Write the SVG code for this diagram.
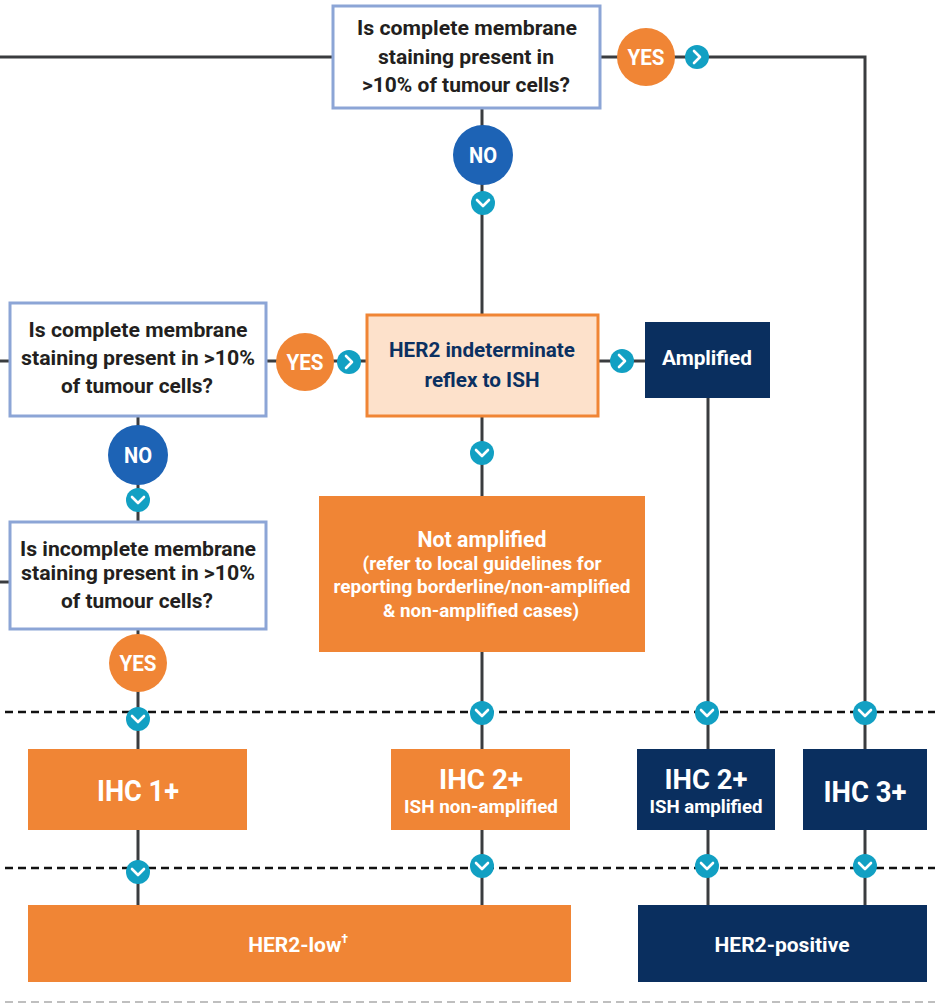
<svg xmlns="http://www.w3.org/2000/svg" xmlns:xlink="http://www.w3.org/1999/xlink" width="935" height="1003" viewBox="0 0 935 1003">
<style>
.q{fill:#fff;stroke:#8ca5d6;stroke-width:3}
.ind{fill:#fde1cb;stroke:#f08535;stroke-width:3}
.or{fill:#f08535}
.nv{fill:#0a2f5f}
.t{font-family:Roboto,"Liberation Sans",sans-serif;font-weight:bold;text-anchor:middle}
.dk{fill:#231f20}
.w{fill:#fff}
.nt{fill:#0b3061}
.ln{stroke:#3a3c3f;stroke-width:3;fill:none}
.dash{stroke:#111;stroke-width:2.5;stroke-dasharray:8 5;fill:none}
.gdash{stroke:#aaa;stroke-width:1.5;stroke-dasharray:8 5;fill:none}
.yes{fill:#f08535}
.no{fill:#1d63b5}
</style>
<defs>
<g id="chevR"><circle r="12" fill="#12a0c3"/><polyline points="-3,-6 3,0 -3,6" fill="none" stroke="#fff" stroke-width="2.6" stroke-linecap="round" stroke-linejoin="round"/></g>
<g id="chevD"><circle r="12" fill="#12a0c3"/><polyline points="-6,-3 0,3 6,-3" fill="none" stroke="#fff" stroke-width="2.6" stroke-linecap="round" stroke-linejoin="round"/></g>
</defs>

<g id="dividers">
<line class="dash" x1="5" y1="712" x2="935" y2="712"/>
<line class="dash" x1="5" y1="868" x2="935" y2="868"/>
<line class="gdash" x1="5" y1="1002" x2="935" y2="1002"/>
</g>

<g id="connectors">
<path class="ln" d="M0 57 H333"/>
<path class="ln" d="M600 57 H865 V749"/>
<path class="ln" d="M482 108 V314"/>
<path class="ln" d="M0 361 H9"/>
<path class="ln" d="M267 361 H367"/>
<path class="ln" d="M599 361 H645"/>
<path class="ln" d="M708 398 V749"/>
<path class="ln" d="M138 417 V522"/>
<path class="ln" d="M0 582 H9"/>
<path class="ln" d="M138 630 V749"/>
<path class="ln" d="M482 417 V496"/>
<path class="ln" d="M482 652 V749"/>
<path class="ln" d="M138 830 V905"/>
<path class="ln" d="M482 830 V905"/>
<path class="ln" d="M708 830 V905"/>
<path class="ln" d="M865 830 V905"/>
<use xlink:href="#chevR" x="697" y="57"/>
<use xlink:href="#chevD" x="483" y="203"/>
<use xlink:href="#chevR" x="349" y="362"/>
<use xlink:href="#chevR" x="622" y="361"/>
<use xlink:href="#chevD" x="138" y="500"/>
<use xlink:href="#chevD" x="482" y="453"/>
<use xlink:href="#chevD" x="138" y="719"/>
<use xlink:href="#chevD" x="482" y="713"/>
<use xlink:href="#chevD" x="707" y="713"/>
<use xlink:href="#chevD" x="865" y="713"/>
<use xlink:href="#chevD" x="138" y="872"/>
<use xlink:href="#chevD" x="482" y="866"/>
<use xlink:href="#chevD" x="707" y="866"/>
<use xlink:href="#chevD" x="865" y="866"/>
</g>

<g id="q-top">
<rect class="q" x="333" y="6" width="267" height="102"/>
<text class="t dk" font-size="21"><tspan x="467" y="35" textLength="220" lengthAdjust="spacingAndGlyphs">Is complete membrane</tspan><tspan x="466" y="64" textLength="176" lengthAdjust="spacingAndGlyphs">staining present in</tspan><tspan x="466" y="92" textLength="208" lengthAdjust="spacingAndGlyphs">&gt;10% of tumour cells?</tspan></text>
</g>

<g id="yes-top"><circle class="yes" cx="646" cy="57" r="29"/><text class="t w" x="646" y="65" font-size="22" textLength="37" lengthAdjust="spacingAndGlyphs">YES</text></g>
<g id="no-top"><circle class="no" cx="483" cy="155" r="30"/><text class="t w" x="483" y="163" font-size="22" textLength="28" lengthAdjust="spacingAndGlyphs">NO</text></g>

<g id="q-left1">
<rect class="q" x="10" y="303" width="256" height="113"/>
<text class="t dk" font-size="21"><tspan x="138" y="337" textLength="219" lengthAdjust="spacingAndGlyphs">Is complete membrane</tspan><tspan x="138" y="365" textLength="234" lengthAdjust="spacingAndGlyphs">staining present in &gt;10%</tspan><tspan x="137" y="393" textLength="152" lengthAdjust="spacingAndGlyphs">of tumour cells?</tspan></text>
</g>

<g id="yes-left1"><circle class="yes" cx="305" cy="362" r="29"/><text class="t w" x="305" y="370" font-size="22" textLength="37" lengthAdjust="spacingAndGlyphs">YES</text></g>

<g id="indeterminate">
<rect class="ind" x="367" y="315" width="231" height="101"/>
<text class="t nt" font-size="21"><tspan x="482" y="357" textLength="186" lengthAdjust="spacingAndGlyphs">HER2 indeterminate</tspan><tspan x="482" y="387" textLength="115" lengthAdjust="spacingAndGlyphs">reflex to ISH</tspan></text>
</g>

<g id="amplified">
<rect class="nv" x="645" y="322" width="125" height="76"/>
<text class="t w" x="707" y="365" font-size="21" textLength="90" lengthAdjust="spacingAndGlyphs">Amplified</text>
</g>

<g id="no-left"><circle class="no" cx="138" cy="455" r="30"/><text class="t w" x="138" y="463" font-size="22" textLength="28" lengthAdjust="spacingAndGlyphs">NO</text></g>

<g id="q-left2">
<rect class="q" x="10" y="522" width="256" height="107"/>
<text class="t dk" font-size="21"><tspan x="138" y="556" textLength="236" lengthAdjust="spacingAndGlyphs">Is incomplete membrane</tspan><tspan x="138" y="580" textLength="234" lengthAdjust="spacingAndGlyphs">staining present in &gt;10%</tspan><tspan x="137" y="608" textLength="152" lengthAdjust="spacingAndGlyphs">of tumour cells?</tspan></text>
</g>

<g id="yes-left2"><circle class="yes" cx="138" cy="663" r="29"/><text class="t w" x="138" y="671" font-size="22" textLength="37" lengthAdjust="spacingAndGlyphs">YES</text></g>

<g id="not-amplified">
<rect class="or" x="319" y="496" width="326" height="156"/>
<text class="t w"><tspan x="482" y="547" font-size="22" textLength="129" lengthAdjust="spacingAndGlyphs">Not amplified</tspan><tspan x="482" y="570" font-size="18" textLength="239" lengthAdjust="spacingAndGlyphs">(refer to local guidelines for</tspan><tspan x="482" y="593" font-size="18" textLength="297" lengthAdjust="spacingAndGlyphs">reporting borderline/non-amplified</tspan><tspan x="481" y="617" font-size="18" textLength="196" lengthAdjust="spacingAndGlyphs">&amp; non-amplified cases)</tspan></text>
</g>

<g id="ihc1">
<rect class="or" x="28" y="749" width="219" height="81"/>
<text class="t w" x="138" y="801" font-size="30" textLength="82" lengthAdjust="spacingAndGlyphs">IHC 1+</text>
</g>

<g id="ihc2-non">
<rect class="or" x="391" y="749" width="179" height="81"/>
<text class="t w" x="481" y="789" font-size="28" textLength="84" lengthAdjust="spacingAndGlyphs">IHC 2+</text>
<text class="t w" x="481" y="813" font-size="18" textLength="154" lengthAdjust="spacingAndGlyphs">ISH non-amplified</text>
</g>

<g id="ihc2-amp">
<rect class="nv" x="637" y="749" width="138" height="81"/>
<text class="t w" x="706" y="789" font-size="28" textLength="83" lengthAdjust="spacingAndGlyphs">IHC 2+</text>
<text class="t w" x="706" y="813" font-size="18" textLength="113" lengthAdjust="spacingAndGlyphs">ISH amplified</text>
</g>

<g id="ihc3">
<rect class="nv" x="803" y="749" width="124" height="81"/>
<text class="t w" x="865" y="802" font-size="30" textLength="83" lengthAdjust="spacingAndGlyphs">IHC 3+</text>
</g>

<g id="her2-low">
<rect class="or" x="28" y="905" width="543" height="77"/>
<text class="t w" x="298" y="952" font-size="21">HER2-low<tspan font-size="12" dy="-9">†</tspan></text>
</g>

<g id="her2-pos">
<rect class="nv" x="638" y="905" width="289" height="77"/>
<text class="t w" x="782" y="952" font-size="21" textLength="135" lengthAdjust="spacingAndGlyphs">HER2-positive</text>
</g>
</svg>
